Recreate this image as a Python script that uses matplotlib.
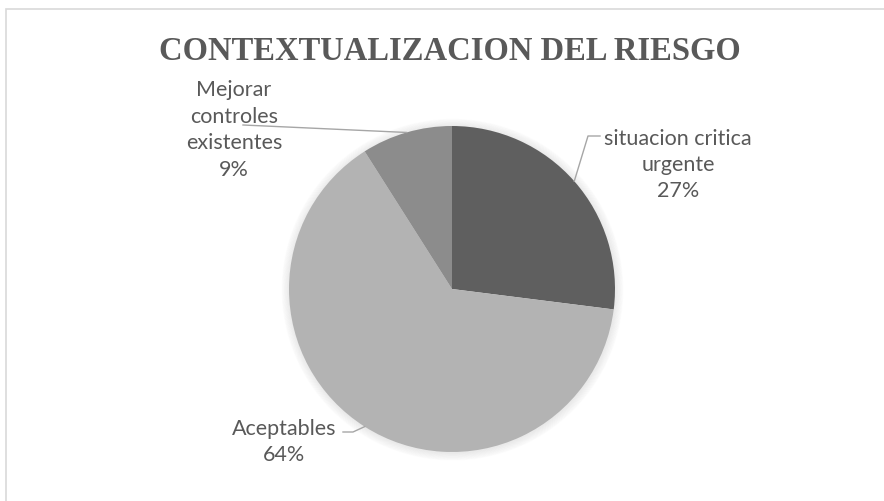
import numpy as np
import matplotlib.pyplot as plt
from matplotlib.patches import Rectangle, Circle
from matplotlib.lines import Line2D

# data
labels = ['situacion critica\nurgente', 'Aceptables', 'Mejorar\ncontroles\nexistentes']
values = [27, 64, 9]
colors = ['#5f5f5f', '#b3b3b3', '#8c8c8c']
title = 'CONTEXTUALIZACION DEL RIESGO'

W, H = 884, 502
fig = plt.figure(figsize=(W / 100, H / 100), dpi=100)

def px(x, y):
    # pixel position (top-left origin) -> figure fraction
    return x / W, 1 - y / H

# chart border (cut off at right and bottom like the screenshot)
fig.patches.append(Rectangle((5.5 / W, -0.1), 1.0, 1 - 9.5 / H + 0.1,
                             transform=fig.transFigure, fill=False,
                             edgecolor='#d9d9d9', linewidth=1.2))

cx, cy, r = 452, 290, 163
ax = fig.add_axes([(cx - r) / W, (H - cy - r) / H, 2 * r / W, 2 * r / H])
ax.set_xlim(-1, 1)
ax.set_ylim(-1, 1)
ax.set_aspect('equal')
ax.axis('off')

# soft shadow
for i in range(10):
    ax.add_patch(Circle((0.003, -0.004), 1.0 + i * 0.005, color='black',
                        alpha=0.009, zorder=0, clip_on=False))

wedges, _ = ax.pie(values, colors=colors, startangle=90, counterclock=False,
                   radius=1.0, wedgeprops=dict(linewidth=0), frame=False)
for w in wedges:
    w.set_zorder(2)
ax.set_xlim(-1, 1)
ax.set_ylim(-1, 1)

# label text positions (pixels) and elbow points
text_pos = [(678, 165), (284, 442), (234, 130)]
elbows = [[(588, 137), (600, 137)], [(353, 433), (343, 433)], [(243, 126)]]
tc = '#595959'

fig.canvas.draw()
for w, lab, v, tp, el in zip(wedges, labels, values, text_pos, elbows):
    ang = np.deg2rad((w.theta1 + w.theta2) / 2)
    dx, dy = ax.transData.transform((np.cos(ang), np.sin(ang)))
    pts = [(dx, dy)] + [(x, H - y) for x, y in el]
    xs = [p[0] / W for p in pts]
    ys = [p[1] / H for p in pts]
    fig.lines.append(Line2D(xs, ys, transform=fig.transFigure,
                            color='#a6a6a6', linewidth=1.0, zorder=0))
    fig.text(*px(*tp), '%s\n%d%%' % (lab, v), ha='center', va='center',
             fontsize=15.5, color=tc, family='Lato', linespacing=1.4)

fig.text(*px(450, 51), title, ha='center', va='center', fontsize=23.5,
         fontweight='bold', family='Liberation Serif', color=tc)

fig.savefig('out.png', dpi=100, facecolor='white')
